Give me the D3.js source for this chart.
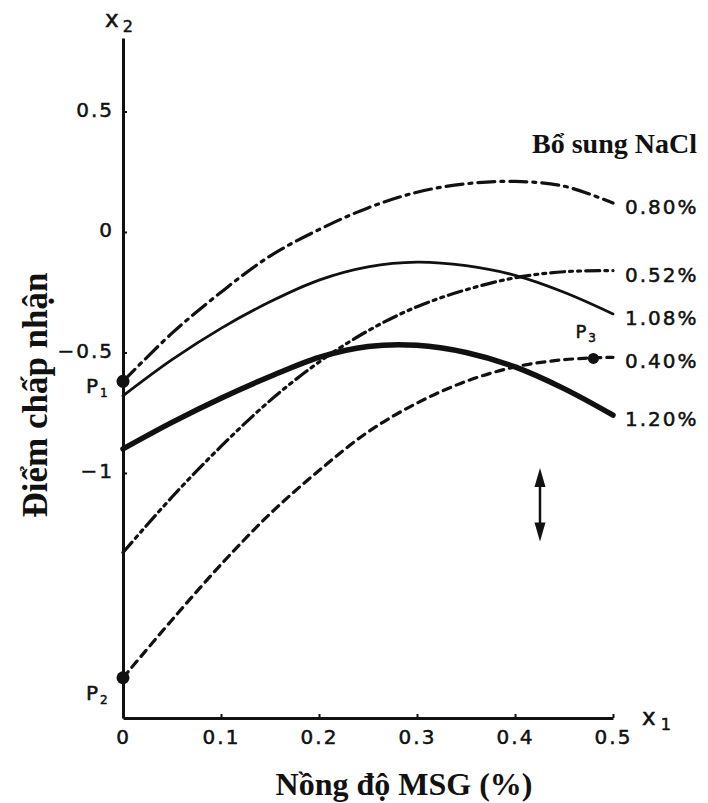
<!DOCTYPE html>
<html>
<head>
<meta charset="utf-8">
<script src="https://cdnjs.cloudflare.com/ajax/libs/d3/7.8.5/d3.min.js"></script>
<style>
  body { margin: 0; background: #fff; }
  .tick text, .lbl { font-family: "DejaVu Sans", sans-serif; fill: #111; stroke: #111; stroke-width: 0.5px; letter-spacing: 2px; }
  .title { font-family: "Liberation Serif", "Times New Roman", serif; font-weight: bold; fill: #111; }
</style>
</head>
<body>
<div class="chart"></div>
<script>
var svgWidth = 708;
var svgHeight = 803;

// MSG concentration (x1)
var msg = [0, 0.05, 0.1, 0.15, 0.2, 0.25, 0.3, 0.35, 0.4, 0.45, 0.5];

// acceptance score (x2) for each NaCl level
var nacl080 = [-0.62, -0.42, -0.25, -0.10, 0.01, 0.10, 0.165, 0.20, 0.21, 0.19, 0.12];
var nacl052 = [-1.33, -1.10, -0.89, -0.70, -0.54, -0.41, -0.31, -0.24, -0.19, -0.165, -0.16];
var nacl108 = [-0.68, -0.53, -0.40, -0.29, -0.20, -0.145, -0.125, -0.14, -0.18, -0.25, -0.34];
var nacl040 = [-1.85, -1.61, -1.38, -1.17, -0.99, -0.83, -0.71, -0.62, -0.56, -0.53, -0.52];
var nacl120 = [-0.90, -0.79, -0.69, -0.60, -0.52, -0.475, -0.47, -0.50, -0.56, -0.65, -0.76];

var seriesNames = ["0.80%", "0.52%", "1.08%", "0.40%", "1.20%"];

var xTicks = [0, 0.1, 0.2, 0.3, 0.4, 0.5];
var xTickLabels = ["0", "0.1", "0.2", "0.3", "0.4", "0.5"];
var yTicks = [0.5, 0, -0.5, -1];
var yTickLabels = ["0.5", "0", "\u22120.5", "\u22121"];

// marked points P1, P2, P3
var pointNames = ["1", "2", "3"];
var pointX = [0, 0, 0.48];
var pointY = [-0.62, -1.85, -0.525];

// double arrow (x1, top x2, bottom x2)
var arrowX = 0.4255;
var arrowY = [-0.98, -1.285];

var svg = d3.select(".chart")
  .append("svg")
  .attr("width", svgWidth)
  .attr("height", svgHeight);

var xScale = d3.scaleLinear().domain([0, 0.5]).range([123, 613]);
var yScale = d3.scaleLinear().domain([-2.017, 0.805]).range([718, 38]);

var styles = [
  { width: 3.2, dash: "17,6,3,6" },
  { width: 3.2, dash: "14,5,3,5,3,5" },
  { width: 2.8, dash: null },
  { width: 3.2, dash: "8,6" },
  { width: 5.5, dash: null }
];
var seriesValues = [nacl080, nacl052, nacl108, nacl040, nacl120];

var line = d3.line()
  .x(function(d) { return xScale(d[0]); })
  .y(function(d) { return yScale(d[1]); })
  .curve(d3.curveCatmullRom.alpha(0.5));

seriesValues.forEach(function(vals, i) {
  var pts = msg.map(function(m, j) { return [m, vals[j]]; });
  var path = svg.append("path")
    .datum(pts)
    .attr("d", line)
    .attr("fill", "none")
    .attr("stroke", "#111")
    .attr("stroke-width", styles[i].width)
    .attr("stroke-linecap", "round");
  if (styles[i].dash) path.attr("stroke-dasharray", styles[i].dash);

  svg.append("text")
    .attr("class", "lbl")
    .attr("x", xScale(0.5) + 12)
    .attr("y", yScale(vals[vals.length - 1]) + 4)
    .attr("dy", "0.35em")
    .style("font-size", "20px")
    .text(seriesNames[i]);
});

// axes
var bottomAxis = d3.axisBottom(xScale)
  .tickValues(xTicks)
  .tickFormat(function(d, i) { return xTickLabels[i]; })
  .tickSizeInner(-4).tickSizeOuter(0).tickPadding(12);
var leftAxis = d3.axisLeft(yScale)
  .tickValues(yTicks)
  .tickFormat(function(d, i) { return yTickLabels[i]; })
  .tickSizeInner(-4).tickSizeOuter(0).tickPadding(9);

var gx = svg.append("g")
  .attr("transform", "translate(0," + yScale.range()[0] + ")")
  .call(bottomAxis);
var gy = svg.append("g")
  .attr("transform", "translate(" + xScale.range()[0] + ",0)")
  .call(leftAxis);

[gx, gy].forEach(function(g) {
  g.select(".domain").attr("stroke", "#111").attr("stroke-width", 3);
  g.selectAll(".tick line").attr("stroke", "#111").attr("stroke-width", 2);
  g.selectAll(".tick text").style("font-size", "20px").attr("font-family", null);
});
gy.selectAll(".tick text").attr("dy", "0.25em");

// points
svg.selectAll(".pt")
  .data(pointX)
  .enter().append("circle")
    .attr("class", "pt")
    .attr("cx", function(d) { return xScale(d); })
    .attr("cy", function(d, i) { return yScale(pointY[i]); })
    .attr("r", function(d, i) { return i === 2 ? 5.5 : 6.5; })
    .attr("fill", "#111");

var pOffsets = [[-37, 12], [-37, 22], [-18, -20]];
pointX.forEach(function(d, i) {
  var t = svg.append("text")
    .attr("class", "lbl")
    .attr("x", xScale(d) + pOffsets[i][0])
    .attr("y", yScale(pointY[i]) + pOffsets[i][1])
    .style("font-size", i === 2 ? "18px" : "20px")
    .style("letter-spacing", "0px");
  t.append("tspan").text("P");
  t.append("tspan").attr("dx", 2).attr("dy", 4).style("font-size", "12px").text(pointNames[i]);
});

// axis names x2 and x1
var tx2 = svg.append("text").attr("class", "lbl")
  .attr("x", 105).attr("y", 27).style("font-size", "23px").style("letter-spacing", "0px");
tx2.append("tspan").text("x");
tx2.append("tspan").attr("dx", 4).attr("dy", 5).style("font-size", "16px").text("2");

var tx1 = svg.append("text").attr("class", "lbl")
  .attr("x", 642).attr("y", 725).style("font-size", "23px").style("letter-spacing", "0px");
tx1.append("tspan").text("x");
tx1.append("tspan").attr("dx", 5).attr("dy", 5).style("font-size", "16px").text("1");

// double arrow
var ax = xScale(arrowX), aTop = yScale(arrowY[0]), aBot = yScale(arrowY[1]);
svg.append("line")
  .attr("x1", ax).attr("x2", ax)
  .attr("y1", aTop + 12).attr("y2", aBot - 12)
  .attr("stroke", "#111").attr("stroke-width", 2.5);
svg.append("path")
  .attr("d", "M" + ax + "," + aTop + "L" + (ax - 5.5) + "," + (aTop + 19) + "L" + (ax + 5.5) + "," + (aTop + 19) + "Z")
  .attr("fill", "#111");
svg.append("path")
  .attr("d", "M" + ax + "," + aBot + "L" + (ax - 5.5) + "," + (aBot - 19) + "L" + (ax + 5.5) + "," + (aBot - 19) + "Z")
  .attr("fill", "#111");

// titles
svg.append("text")
  .attr("class", "title")
  .attr("x", 532).attr("y", 153)
  .style("font-size", "28px")
  .text("Bổ sung NaCl");

svg.append("text")
  .attr("class", "title")
  .attr("x", 404).attr("y", 795)
  .attr("text-anchor", "middle")
  .style("font-size", "32px")
  .text("Nồng độ MSG (%)");

svg.append("text")
  .attr("class", "title")
  .attr("transform", "translate(47,395) rotate(-90)")
  .attr("text-anchor", "middle")
  .style("font-size", "35px")
  .text("Điểm chấp nhận");
</script>
</body>
</html>
